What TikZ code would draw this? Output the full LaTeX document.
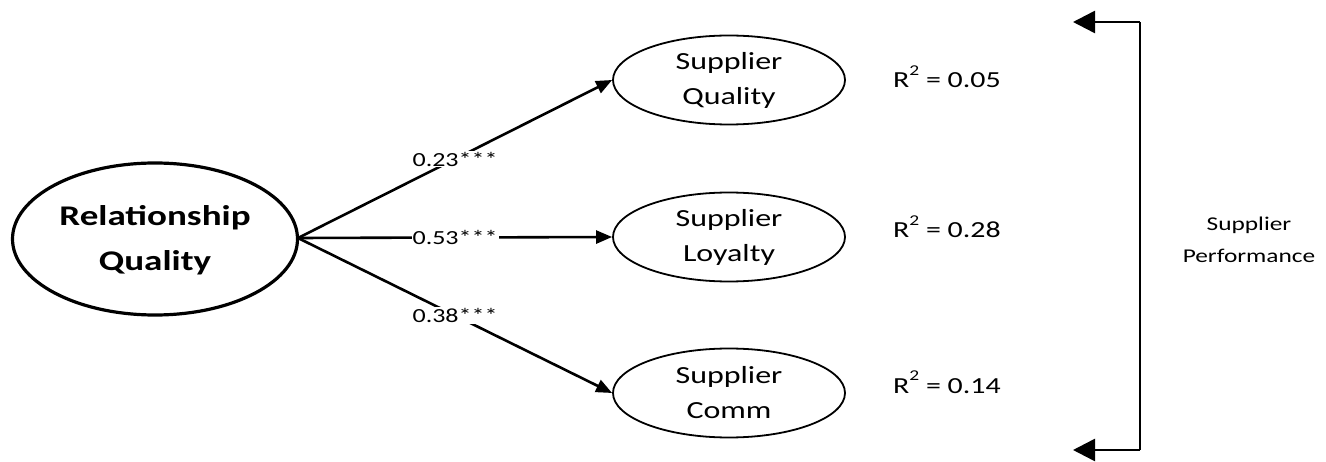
\documentclass[tikz,border=0pt]{standalone}
\usepackage{fontspec}
\setmainfont{Carlito}
\newfontfamily\wide[FakeStretch=1.3]{Carlito}
\usetikzlibrary{shapes.geometric,arrows.meta}
\newcommand{\rsup}{\raisebox{0.55em}{\fontsize{15}{15}\selectfont 2}}
\begin{document}
\begin{tikzpicture}[x=1pt,y=-1pt,
  bigell/.style={draw,ellipse,line width=3.2pt,minimum width=285pt,minimum height=152pt,inner sep=0pt,align=center,font=\wide\fontsize{28.5}{45}\selectfont\bfseries},
  smallell/.style={draw,ellipse,line width=1.8pt,minimum width=232pt,minimum height=89pt,inner sep=0pt,align=center,font=\wide\fontsize{24.6}{35}\selectfont},
  path/.style={line width=2.6pt,-{Triangle[length=16pt,width=13pt]}},
  lbl/.style={fill=white,inner sep=1pt,font=\wide\fontsize{20}{22}\selectfont},
  rsq/.style={anchor=base west,inner sep=0pt,font=\wide\fontsize{23}{26}\selectfont},
  brk/.style={line width=2.6pt,-{Triangle[length=22pt,width=22pt]}}
]
\useasboundingbox (0,0) rectangle (1326,462);
\node[bigell] (rq) at (155,239) {\raisebox{-6pt}{\begin{tabular}{@{}c@{}}Relationship\\Quality\end{tabular}}};
\node[smallell] (sq) at (729,80) {Supplier\\Quality};
\node[smallell] (sl) at (729,237) {Supplier\\Loyalty};
\node[smallell] (sc) at (729,393) {Supplier\\Comm};
\coordinate (o) at (298,238);
\draw[path] (o) -- (sq.west) node[lbl,pos=0.5] (l1) {0.23***};
\draw[path] (o) -- (sl.west) node[lbl,pos=0.5] (l2) {0.53***};
\draw[path] (o) -- (sc.west) node[lbl,pos=0.5] (l3) {0.38***};
\node[rsq] (r1) at (893,88) {R\rsup\ = 0.05};
\node[rsq] (r2) at (893,238) {R\rsup\ = 0.28};
\node[rsq] (r3) at (893,393) {R\rsup\ = 0.14};
\coordinate (bt) at (1140,22);
\coordinate (bb) at (1140,450);
\coordinate (at) at (1073,22);
\coordinate (ab) at (1073,450);
\draw[line width=2.6pt] (bt) -- (bb);
\draw[brk] (bt) -- (at);
\draw[brk] (bb) -- (ab);
\node[align=center,font=\wide\fontsize{19.5}{32}\selectfont] (sp) at (1249,240) {Supplier\\Performance};
\end{tikzpicture}
\end{document}
